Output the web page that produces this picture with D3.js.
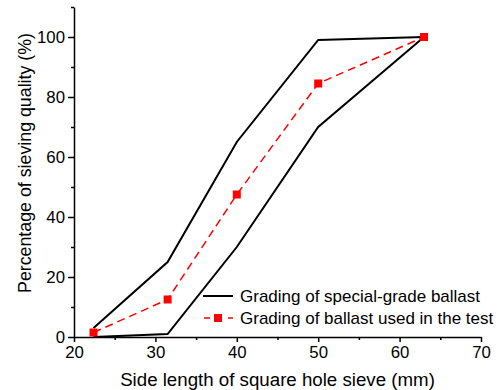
<!DOCTYPE html>
<html>
<head>
<meta charset="utf-8">
<script src="https://cdn.jsdelivr.net/npm/d3@7"></script>
<style>
body { margin: 0; background: #fff; }
text { font-family: "Liberation Sans", Arial, sans-serif; }
</style>
</head>
<body>
<script>
// sieve sizes (mm)
let sieves = [22.4, 31.5, 40, 50, 63]
let upperLimit = [3, 25, 65, 99, 100]
let lowerLimit = [0, 1, 30, 70, 100]
let testGrading = [1.5, 12.5, 47.5, 84.5, 100]
let xTicks = [20, 30, 40, 50, 60, 70]
let yTicks = [0, 20, 40, 60, 80, 100]
let legendLabels = ["Grading of special-grade ballast", "Grading of ballast used in the test"]

let w = 500
let h = 390
let m = {l: 74, r: 19, t: 7, b: 53}

let svg = d3.select("body").append("svg")
    .attr("width", w)
    .attr("height", h)

let x = d3.scaleLinear().domain([20, 70]).range([m.l, w - m.r])
let y = d3.scaleLinear().domain([0, 110]).range([h - m.b, m.t])

// minor ticks first
svg.append("g")
    .attr("transform", `translate(0,${h - m.b})`)
    .call(d3.axisBottom(x).tickValues(d3.range(25, 70, 10)).tickSize(3).tickFormat(""))
    .call(g => g.select(".domain").remove())
svg.append("g")
    .attr("transform", `translate(${m.l},0)`)
    .call(d3.axisLeft(y).tickValues(d3.range(10, 111, 20)).tickSize(3).tickFormat(""))
    .call(g => g.select(".domain").remove())

let xAxis = svg.append("g")
    .attr("transform", `translate(0,${h - m.b})`)
    .call(d3.axisBottom(x).tickValues(xTicks).tickSize(5).tickSizeOuter(0).tickPadding(4))
let yAxis = svg.append("g")
    .attr("transform", `translate(${m.l},0)`)
    .call(d3.axisLeft(y).tickValues(yTicks).tickSize(6).tickSizeOuter(0).tickPadding(3))

svg.selectAll(".tick line, .domain").attr("stroke", "#000").attr("stroke-width", 1.5)
svg.selectAll(".tick text").attr("font-size", 16.8).attr("fill", "#000")
    .style("font-family", "'Liberation Sans', Arial, sans-serif")

let line = d3.line().x((d, i) => x(sieves[i])).y(d => y(d))

svg.append("path").datum(upperLimit)
    .attr("d", line).attr("fill", "none").attr("stroke", "#000").attr("stroke-width", 2)
svg.append("path").datum(lowerLimit)
    .attr("d", line).attr("fill", "none").attr("stroke", "#000").attr("stroke-width", 2)
svg.append("path").datum(testGrading)
    .attr("d", line).attr("fill", "none").attr("stroke", "#ff0000").attr("stroke-width", 1.5)
    .attr("stroke-dasharray", "8,5")
svg.selectAll("rect.pt").data(testGrading).enter().append("rect")
    .attr("class", "pt")
    .attr("x", (d, i) => x(sieves[i]) - 4)
    .attr("y", d => y(d) - 4)
    .attr("width", 8).attr("height", 8)
    .attr("fill", "#ff0000")

// legend
let lg = svg.append("g").attr("transform", "translate(203,296)")
lg.append("line").attr("x1", 0).attr("x2", 30).attr("y1", 0).attr("y2", 0)
    .attr("stroke", "#000").attr("stroke-width", 2)
lg.append("line").attr("x1", 0).attr("x2", 30).attr("y1", 22).attr("y2", 22)
    .attr("stroke", "#ff0000").attr("stroke-width", 1.5).attr("stroke-dasharray", "6,6").attr("stroke-dashoffset", -1)
lg.append("rect").attr("x", 11).attr("y", 18).attr("width", 8).attr("height", 8).attr("fill", "#ff0000")
lg.selectAll("text").data(legendLabels).enter().append("text")
    .attr("x", 37).attr("y", (d, i) => i * 22 + 6)
    .attr("font-size", 17).text(d => d)

svg.append("text")
    .attr("x", (m.l + w - m.r) / 2).attr("y", 386)
    .attr("text-anchor", "middle").attr("font-size", 18.7)
    .text("Side length of square hole sieve (mm)")
svg.append("text")
    .attr("transform", "translate(31,163) rotate(-90)")
    .attr("text-anchor", "middle").attr("font-size", 17.8)
    .text("Percentage of sieving quality (%)")
</script>
</body>
</html>
